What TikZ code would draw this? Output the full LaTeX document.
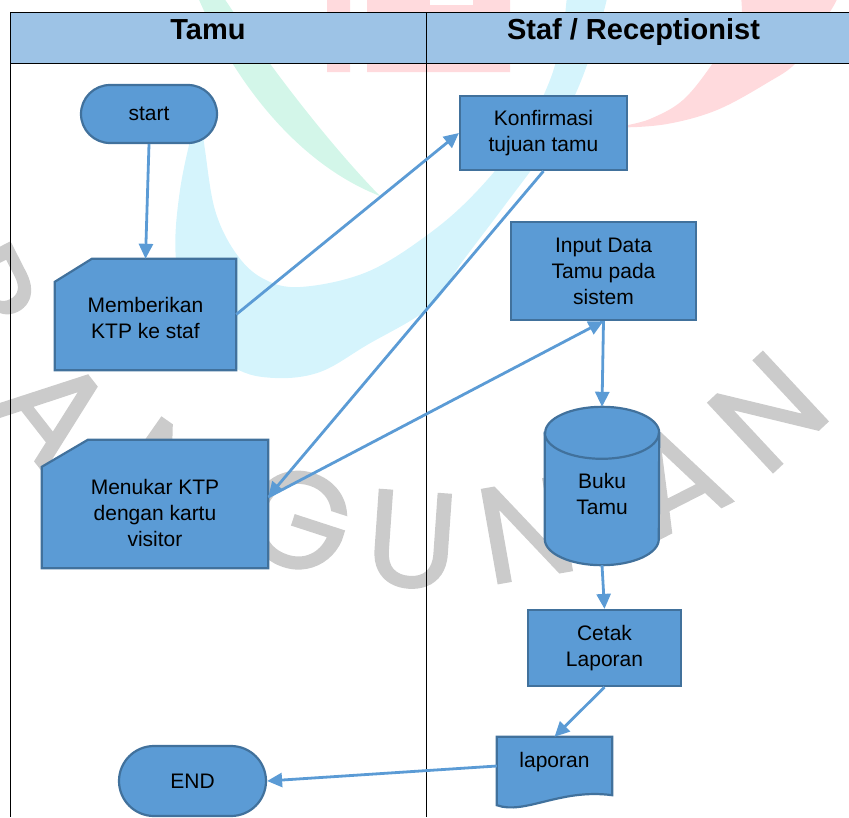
\documentclass[tikz,border=0pt]{standalone}
\usepackage{fontspec}
\setmainfont{Liberation Sans}
\newfontfamily\markfont{Poppins}[FakeBold=1.5]
\usetikzlibrary{calc,arrows.meta}

\definecolor{boxfill}{HTML}{5B9BD5}
\definecolor{boxline}{HTML}{41719C}
\definecolor{lanehead}{HTML}{9DC3E6}
\definecolor{markgray}{HTML}{CBCBCB}
\definecolor{markcyan}{HTML}{D5F4FC}
\definecolor{markgreen}{HTML}{D3F6E9}
\definecolor{markred}{HTML}{FFDADD}

\pgfdeclarelayer{mark}
\pgfdeclarelayer{shapes}
\pgfsetlayers{mark,shapes,main}

\begin{document}
\begin{tikzpicture}[x=1pt,y=-1pt,
  boxtext/.style={font=\fontsize{21}{26}\selectfont, align=center, inner sep=0pt, text=black},
  outline/.style={draw=boxline, fill=boxfill, line width=2.2pt, line join=miter},
  process/.style={outline, boxtext},
  terminal/.style={outline, boxtext},
  lanetitle/.style={font=\fontsize{29}{34}\selectfont\bfseries, inner sep=0pt, anchor=base},
  flow/.style={draw=boxfill, line width=2.8pt, -{Triangle[length=15pt,width=14pt]}},
  lane/.style={draw=black, line width=1pt},
  markletter/.style={text=markgray, font=\fontsize{136}{136}\markfont, inner sep=0pt},
]
\useasboundingbox (0,0) rectangle (849,817);

% ---------- background emblem ----------
\begin{pgfonlayer}{mark}
\begin{scope}
\clip (0,0) rectangle (849,817);
\fill[markgreen] (197,-5) .. controls (235,85) and (300,165) .. (380,196)
  .. controls (335,150) and (275,75) .. (222,-5) -- cycle;
\fill[markcyan] plot[smooth cycle, tension=0.6] coordinates {
  (196,118) (180,190) (176,260) (192,330) (235,368) (275,378) (320,372)
  (367,345) (430,307) (462,262) (505,205) (545,150) (575,95) (595,40) (607,-15)
  (572,-15) (563,30) (550,80) (522,135) (478,190) (430,233) (367,272)
  (300,287) (262,278) (235,252) (215,210) (205,150) (201,118)};
\fill[markred] plot[smooth cycle, tension=0.6] coordinates {
  (750,-15) (740,20) (713,63) (683,100) (650,119) (622,127)
  (667,124) (717,110) (767,83) (797,62) (822,25) (835,-15)};
\fill[markred] (327,-5) rectangle (350,72) (367,-5) rectangle (510,72);
\fill[white] (430,-5) rectangle (473,5);
\node[markletter, rotate=-63] (mark-b)  at (-18,292) {B};
\node[markletter, rotate=-52] (mark-a1) at (55,410)  {A};
\node[markletter, rotate=-35] (mark-n1) at (165,478) {N};
\node[markletter, rotate=-18] (mark-g)  at (298,520) {G};
\node[markletter, rotate=-4]  (mark-u)  at (412,540) {U};
\node[markletter, rotate=10]  (mark-n2) at (527,530) {N};
\node[markletter, rotate=27]  (mark-a2) at (675,478) {A};
\node[markletter, rotate=43]  (mark-n3) at (768,412) {N};
\end{scope}
\end{pgfonlayer}

% ---------- lane headers ----------
\node[lanetitle] (tamu-head) at (208,39) {Tamu};
\node[lanetitle] (staf-head) at (633.5,39) {Staf / Receptionist};

% ---------- Tamu lane ----------
\node[terminal, minimum width=136pt, minimum height=58pt, rounded corners=29pt] (start) at (149,114) {start};
\node[boxtext, minimum width=181pt, minimum height=111pt] (kirim) at (145.5,314.5) {};
\node[boxtext] (kirim-label) at (145.5,318) {Memberikan\\KTP ke staf};
\node[boxtext, minimum width=226pt, minimum height=128pt] (tukar) at (155,504) {};
\node[boxtext] (tukar-label) at (155,513) {Menukar KTP\\dengan kartu\\visitor};
\node[terminal, minimum width=147pt, minimum height=70pt, rounded corners=35pt] (finish) at (192.5,781) {END};

% ---------- Staf lane ----------
\node[process, minimum width=167pt, minimum height=74pt] (konf) at (543.5,133) {Konfirmasi\\tujuan tamu};
\node[process, minimum width=185pt, minimum height=98pt] (input) at (603.5,271) {Input Data\\Tamu pada\\sistem};
\node[boxtext, minimum width=114pt, minimum height=158pt] (buku) at (602,486) {};
\node[boxtext] (buku-label) at (602,493.5) {Buku\\Tamu};
\node[process, minimum width=153pt, minimum height=76pt] (cetak) at (604.5,648) {Cetak\\Laporan};
\node[boxtext, minimum width=115pt, minimum height=70pt] (lap) at (554.5,772) {};
\node[boxtext] (lap-label) at (554.5,762) {laporan};

% ---------- swimlane frame and drawn outlines ----------
\begin{pgfonlayer}{shapes}
\fill[lanehead] (10,12) rectangle (849,63);
\draw[lane] (10,12) -- (849,12) (10,63) -- (849,63) (10,12) -- (10,817) (426,12) -- (426,817);
% manual input cards
\path[outline] ($(kirim.north west)+(0,23)$) -- ($(kirim.north west)+(37,0)$)
  -- (kirim.north east) -- (kirim.south east) -- (kirim.south west) -- cycle;
\path[outline] ($(tukar.north west)+(0,27)$) -- ($(tukar.north west)+(46,0)$)
  -- (tukar.north east) -- (tukar.south east) -- (tukar.south west) -- cycle;
% database cylinder
\path[outline] ($(buku.north west)+(0,26)$) -- ($(buku.south west)+(0,-26)$)
  arc[start angle=180, end angle=360, x radius=57pt, y radius=26pt]
  -- ($(buku.north east)+(0,26)$)
  arc[start angle=0, end angle=180, x radius=57pt, y radius=26pt] -- cycle;
\draw[draw=boxline, line width=2.2pt] ($(buku.north west)+(0,26)$)
  arc[start angle=180, end angle=360, x radius=57pt, y radius=26pt];
% document
\path[outline] (lap.north west) -- (lap.north east) -- ($(lap.south east)+(0,-12)$)
  .. controls ($(lap.south east)+(-52,-19)$) and ($(lap.south west)+(28,8)$) .. ($(lap.south west)+(0,-2)$)
  -- cycle;
\end{pgfonlayer}

% ---------- connectors ----------
\coordinate (tukar-port) at ($(tukar.east)+(0,-7)$);
\coordinate (lap-port) at ($(lap.west)+(0,-6)$);
\draw[flow] (start.south) -- (kirim.north);
\draw[flow] (kirim.east) -- (konf.west);
\draw[flow] (konf.south) -- (tukar-port);
\draw[flow] (tukar-port) -- (input.south);
\draw[flow] (input.south) -- (buku.north);
\draw[flow] (buku.south) -- (cetak.north);
\draw[flow] (cetak.south) -- (lap.north);
\draw[flow] (lap-port) -- (finish.east);
\end{tikzpicture}
\end{document}
